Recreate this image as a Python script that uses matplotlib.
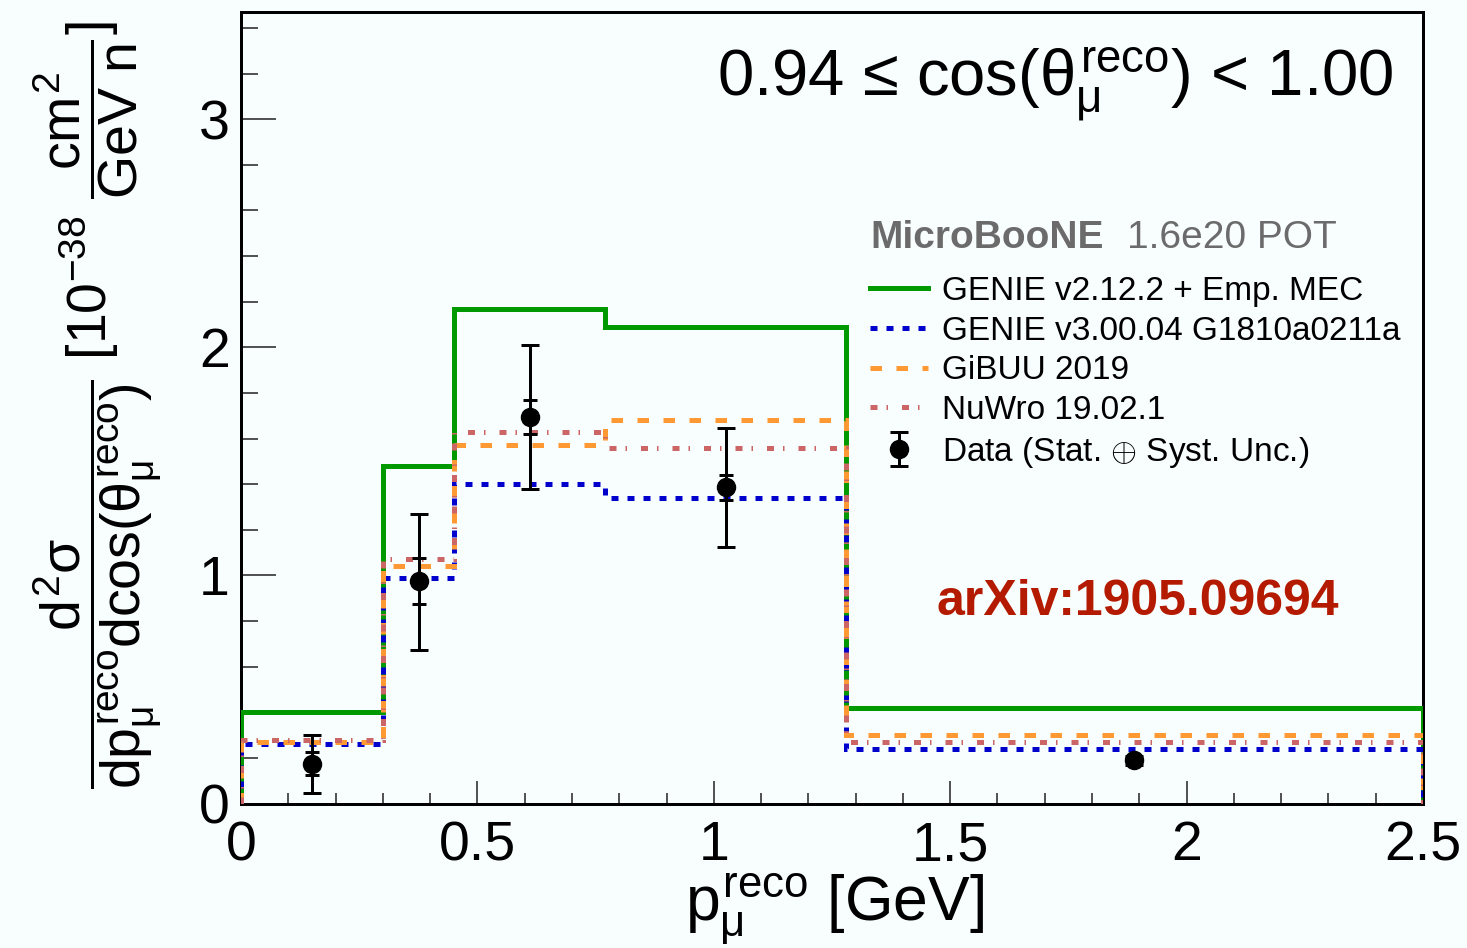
import numpy as np
import matplotlib
matplotlib.use('Agg')
import matplotlib.pyplot as plt

plt.rcParams['font.family'] = ['Liberation Sans', 'DejaVu Sans']
plt.rcParams['mathtext.fontset'] = 'custom'
plt.rcParams['mathtext.rm'] = 'Liberation Sans'
plt.rcParams['mathtext.it'] = 'Liberation Sans'
plt.rcParams['mathtext.bf'] = 'Liberation Sans:bold'

# bin edges in p_mu [GeV]
edges = [0.0, 0.30, 0.45, 0.77, 1.28, 2.5]

# model predictions per bin [1e-38 cm2/GeV/n]
genie_v2 = [0.40, 1.48, 2.17, 2.09, 0.42]
genie_v3 = [0.26, 0.99, 1.40, 1.34, 0.24]
gibuu = [0.27, 1.04, 1.57, 1.68, 0.30]
nuwro = [0.28, 1.07, 1.63, 1.56, 0.27]

# data
data_x = [0.15, 0.376, 0.611, 1.026, 1.889]
data_y = [0.175, 0.975, 1.694, 1.386, 0.189]
err_tot_lo = [0.127, 0.300, 0.317, 0.262, 0.02]
err_tot_hi = [0.125, 0.295, 0.316, 0.260, 0.02]
err_stat = [0.05, 0.10, 0.075, 0.055, 0.01]

W, H = 1467, 948
bg = '#f8fdfd'
fig = plt.figure(figsize=(W / 100, H / 100), dpi=100, facecolor=bg)
ax = fig.add_axes([241 / W, 1 - 803.5 / H, (1423 - 241) / W, (803.5 - 12) / H])
ax.set_facecolor(bg)

px = 72 / 100  # points per pixel

ax.stairs(genie_v2, edges, color='#009900', lw=5 * px, label='GENIE v2.12.2 + Emp. MEC', zorder=3)
l_v3 = ax.stairs(genie_v3, edges, color='#0000cc', lw=5 * px, label='GENIE v3.00.04 G1810a0211a', zorder=3)
l_v3.set_linestyle((0, (1.4, 1.8)))
l_gi = ax.stairs(gibuu, edges, color='#ff9933', lw=5 * px, label='GiBUU 2019', zorder=3)
l_gi.set_linestyle((0, (2.3, 2.9)))
l_nu = ax.stairs(nuwro, edges, color='#cc6666', lw=5 * px, label='NuWro 19.02.1', zorder=3)
l_nu.set_linestyle((0, (1.4, 1.8, 0.3, 2.8)))

ax.errorbar(data_x, data_y, yerr=[err_tot_lo, err_tot_hi], fmt='o', color='k',
            ms=13, elinewidth=3 * px, capsize=6.5, capthick=3 * px,
            zorder=5, label='Data (Stat. $\\oplus$ Syst. Unc.)')
ax.errorbar(data_x, data_y, yerr=err_stat, fmt='none', ecolor='k',
            elinewidth=3 * px, capsize=5, capthick=3 * px, zorder=5)

ax.set_xlim(0, 2.5)
ax.set_ylim(0, 3.47)
ax.set_xticks([0, 0.5, 1, 1.5, 2, 2.5])
ax.set_xticklabels(['0', '0.5', '1', '1.5', '2', '2.5'])
ax.set_xticks(np.arange(0, 2.51, 0.1), minor=True)
ax.set_yticks([0, 1, 2, 3])
ax.set_yticks(np.arange(0, 3.47, 0.2), minor=True)
ax.tick_params(which='both', direction='in', top=False, right=False,
               labelsize=40, width=1.2, color='#333333')
ax.tick_params(which='major', length=35 * px)
ax.tick_params(which='minor', length=17 * px)
ax.tick_params(axis='x', which='major', length=23 * px, pad=12)
ax.tick_params(axis='x', which='minor', length=11 * px)
ax.tick_params(axis='y', pad=8)
for s in ax.spines.values():
    s.set_linewidth(3 * px)

ax.set_xlabel(r'$p_{\mu}^{reco}$ [GeV]', fontsize=45, va='center', ha='center')
ax.xaxis.set_label_coords((835 - 241) / 1182, -(909 - 803.5) / 791.5)
ax.set_ylabel(r'$\dfrac{d^{2}\sigma}{dp_{\mu}^{reco}dcos(\theta_{\mu}^{reco})}\ [10^{-38}\ \dfrac{cm^{2}}{GeV\ n}]$',
              fontsize=40, va='center', ha='center')
ax.yaxis.set_label_coords((98 - 241) / 1182, (803.5 - 405) / 791.5)

ax.text((1393 - 241) / 1182, (803.5 - 85) / 791.5, '0.94 ≤ cos($\\theta_{\\mu}^{reco}$) < 1.00',
        transform=ax.transAxes, ha='right', va='center', fontsize=47)
fig.text(870 / W, 1 - 238 / H, 'MicroBooNE', fontsize=28,
         fontweight='bold', color='#6b6b6b', va='center')
fig.text(1127 / W, 1 - 238 / H, '1.6e20 POT', fontsize=28,
         color='#6b6b6b', va='center')
fig.text(1138 / W, 1 - 602 / H, 'arXiv:1905.09694', fontsize=36,
         fontweight='bold', color='#b41a00', va='center', ha='center')

handles, labels = ax.get_legend_handles_labels()
leg = ax.legend(handles, labels, loc='upper left', bbox_to_anchor=(870 / W, 1 - 276 / H),
                bbox_transform=fig.transFigure, frameon=False, fontsize=24,
                handlelength=1.75, handletextpad=0.4, labelspacing=0.26, borderpad=0,
                borderaxespad=0)

fig.savefig('out.png', dpi=100, facecolor=fig.get_facecolor())
